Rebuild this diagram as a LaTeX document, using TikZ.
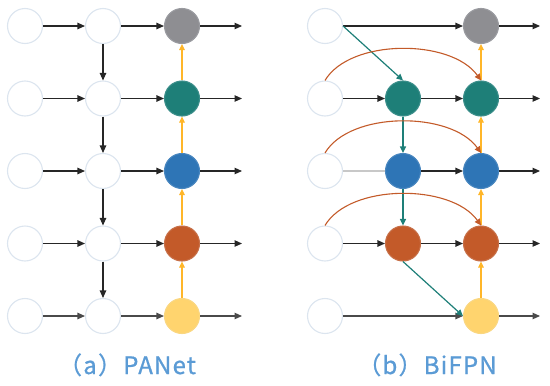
\documentclass[tikz,border=0pt]{standalone}
\usepackage{fontspec}
\newfontfamily\cjk[LetterSpace=5,FakeBold=0.8]{Noto Sans CJK SC}
\usetikzlibrary{arrows.meta}
\definecolor{cgray}{HTML}{8E8E92}
\definecolor{cteal}{HTML}{1E7F78}
\definecolor{cblue}{HTML}{2E75B6}
\definecolor{corange}{HTML}{C35A29}
\definecolor{cyellow}{HTML}{FFD46E}
\definecolor{cedge}{HTML}{DCE5EF}
\definecolor{ctext}{HTML}{5B9BD5}
\definecolor{cline}{HTML}{262626}
\definecolor{cline2}{HTML}{4A4A4A}
\definecolor{clight}{HTML}{C8C8C8}
\definecolor{carrow}{HTML}{FFB629}
\begin{document}
\begin{tikzpicture}[x=1pt,y=-1pt,
  nd/.style={circle,minimum size=35pt,inner sep=0pt,line width=1.1pt},
  wn/.style={nd,fill=white,draw=cedge},
  fn/.style={nd,fill=#1,draw=#1!85!cedge},
  tip/.style={-{Triangle[length=7.5pt,width=6.5pt]}},
  ar/.style={tip,draw=cline,line width=1.1pt},
  up/.style={-{Triangle[length=6pt,width=5.5pt]},draw=carrow,line width=1.1pt},
  td/.style={-{Triangle[length=6.5pt,width=6pt]},draw=cteal,line width=1.2pt},
  arc/.style={-{Triangle[length=6.5pt,width=6pt]},draw=corange,line width=1.1pt},
  lab/.style={text=ctext,font=\cjk\fontsize{24pt}{28pt}\selectfont,inner sep=0pt,anchor=base}
]
\useasboundingbox (0,0) rectangle (550,386);
% ---------- PANet ----------
\foreach \r/\y in {1/26,2/98.5,3/171,4/243.5,5/316}{
  \node[wn] (a\r1) at (25,\y) {};
  \node[wn] (a\r2) at (103,\y) {};
  \coordinate (ao\r) at (242,\y);
}
\node[fn=cgray] (a13) at (182,26) {};
\node[fn=cteal] (a23) at (182,98.5) {};
\node[fn=cblue] (a33) at (182,171) {};
\node[fn=corange] (a43) at (182,243.5) {};
\node[fn=cyellow] (a53) at (182,316) {};
\foreach \r in {1,2,3,4}{
  \draw[ar] (a\r1) -- (a\r2);
  \draw[ar] (a\r2) -- (a\r3);
  \draw[ar] (a\r3) -- (ao\r);
}
\draw[ar,draw=cline2] (a51) -- (a52);
\draw[ar,draw=cline2] (a52) -- (a53);
\draw[ar,draw=cline2] (a53) -- (ao5);
\draw[ar] (a12) -- (a22);
\draw[ar] (a22) -- (a32);
\draw[ar] (a32) -- (a42);
\draw[ar] (a42) -- (a52);
\draw[up] (a53) -- (a43);
\draw[up] (a43) -- (a33);
\draw[up] (a33) -- (a23);
\draw[up] (a23) -- (a13);
\node[lab] (la) at (127,374) {（a）PANet};
% ---------- BiFPN ----------
\foreach \r/\y in {1/26,2/98.5,3/171,4/243.5,5/316}{
  \node[wn] (b\r1) at (325,\y) {};
  \coordinate (bo\r) at (540,\y);
}
\node[fn=cteal] (b22) at (403,98.5) {};
\node[fn=cblue] (b32) at (403,171) {};
\node[fn=corange] (b42) at (403,243.5) {};
\node[fn=cgray] (b13) at (481,26) {};
\node[fn=cteal] (b23) at (481,98.5) {};
\node[fn=cblue] (b33) at (481,171) {};
\node[fn=corange] (b43) at (481,243.5) {};
\node[fn=cyellow] (b53) at (481,316) {};
\draw[ar] (b11) -- (b13);
\draw[ar,draw=cline2] (b51) -- (b53);
\draw[ar] (b21) -- (b22);
\draw[draw=clight,line width=1.1pt] (b31) -- (b32);
\draw[ar] (b41) -- (b42);
\foreach \r in {2,3,4}{
  \draw[ar] (b\r2) -- (b\r3);
}
\foreach \r in {1,2,3,4}{
  \draw[ar] (b\r3) -- (bo\r);
}
\draw[ar,draw=cline2] (b53) -- (bo5);
\draw[up] (b53) -- (b43);
\draw[up] (b43) -- (b33);
\draw[up] (b33) -- (b23);
\draw[up] (b23) -- (b13);
\draw[td] (b11.east) -- (b22.north);
\draw[td] (b22) -- (b32);
\draw[td] (b32) -- (b42);
\draw[td] (b42.south) -- (b53.west);
\foreach \r in {2,3,4}{
  \draw[arc] (b\r1.north) .. controls +(25,-42) and +(-30,-42) .. (b\r3.north);
}
\node[lab] (lb) at (427,374) {（b）BiFPN};
\end{tikzpicture}
\end{document}
